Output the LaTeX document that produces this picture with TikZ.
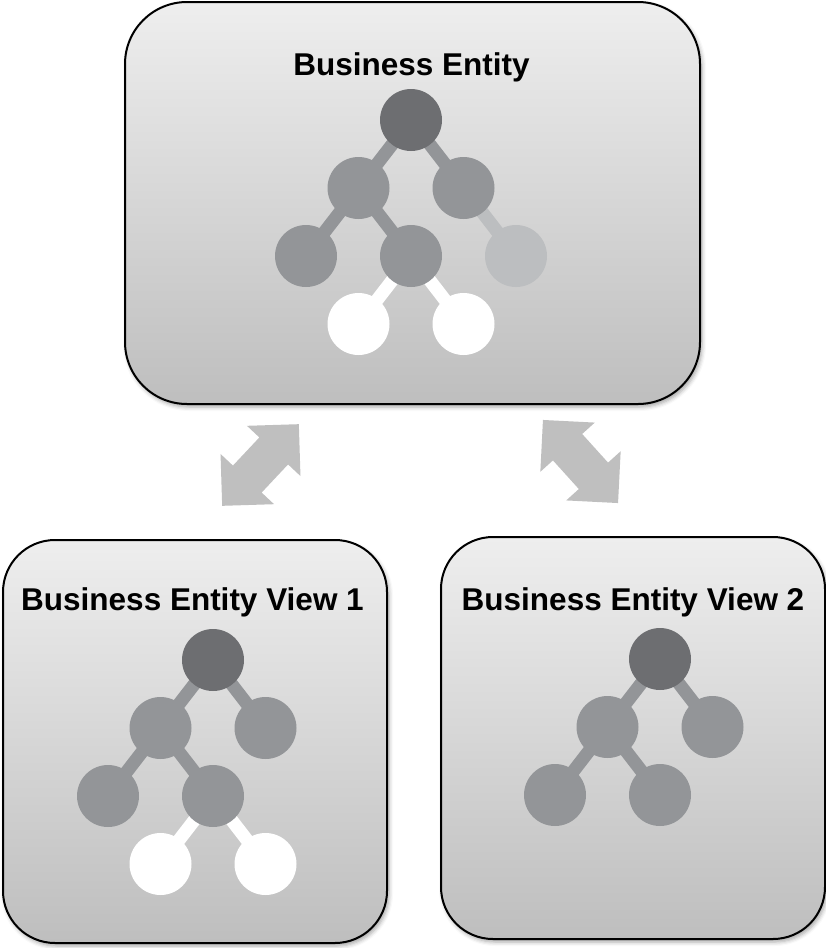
\documentclass[tikz,border=0pt]{standalone}
\usepackage{fontspec}
\setmainfont{Liberation Sans}
\usetikzlibrary{positioning,shapes.arrows,shadows.blur}

\definecolor{rootgray}{HTML}{6D6E71}
\definecolor{midgray}{HTML}{939598}
\definecolor{palegray}{HTML}{BCBEC0}
\definecolor{arrowgray}{HTML}{BFBFBF}
\definecolor{boxtop}{HTML}{EEEEEE}
\definecolor{boxbottom}{HTML}{BEBEBE}

\pgfdeclarelayer{boxes}
\pgfdeclarelayer{links}
\pgfsetlayers{boxes,links,main}

\tikzset{
  entitybox/.style={draw=black, line width=2pt, top color=boxtop, bottom color=boxbottom,
    blur shadow={shadow xshift=2pt, shadow yshift=-3pt, shadow blur radius=4pt, shadow opacity=35}},
  titletext/.style={anchor=base, font=\bfseries\fontsize{31.5}{38}\selectfont},
  treenode/.style={circle, minimum size=62pt, inner sep=0pt, on grid},
  rootnode/.style={treenode, fill=rootgray},
  midnode/.style={treenode, fill=midgray},
  palenode/.style={treenode, fill=palegray},
  blanknode/.style={treenode, fill=white},
  link/.style={line width=13pt, midgray},
  palelink/.style={line width=13pt, palegray},
  blanklink/.style={line width=13pt, white},
  bigarrow/.style={double arrow, fill=arrowgray, minimum height=112pt,
    double arrow head extend=17pt, inner xsep=0pt, inner ysep=19.5pt}
}

\begin{document}
\begin{tikzpicture}[x=1pt, y=-1pt, node distance=68pt and 52.5pt]
  \useasboundingbox (0,0) rectangle (826,948);

  % the three boxes
  \begin{pgfonlayer}{boxes}
    \node[entitybox, rounded corners=62pt, minimum width=575pt, minimum height=402pt] (entity) at (412.5,203) {};
    \node[entitybox, rounded corners=52pt, minimum width=384pt, minimum height=403pt] (viewone) at (195,741.5) {};
    \node[entitybox, rounded corners=52pt, minimum width=384pt, minimum height=402pt] (viewtwo) at (633,738) {};
  \end{pgfonlayer}

  \node[titletext] (entitytitle) at (411.5,75) {Business Entity};
  \node[titletext] (viewonetitle) at (192.5,610) {Business Entity View 1};
  \node[titletext] (viewtwotitle) at (633,610) {Business Entity View 2};

  % full tree
  \node[rootnode] (e0) at (411,120) {};
  \node[midnode, below left=of e0] (e1) {};
  \node[midnode, below right=of e0] (e2) {};
  \node[midnode, below left=of e1] (e3) {};
  \node[midnode, below right=of e1] (e4) {};
  \node[palenode, below right=of e2] (e5) {};
  \node[blanknode, below left=of e4] (e6) {};
  \node[blanknode, below right=of e4] (e7) {};
  \begin{pgfonlayer}{links}
    \draw[link] (e0.center) -- (e1.center) (e0.center) -- (e2.center)
                (e1.center) -- (e3.center) (e1.center) -- (e4.center);
    \draw[palelink] (e2.center) -- (e5.center);
    \draw[blanklink] (e4.center) -- (e6.center) (e4.center) -- (e7.center);
  \end{pgfonlayer}

  % view 1
  \node[rootnode] (a0) at (213,660) {};
  \node[midnode, below left=of a0] (a1) {};
  \node[midnode, below right=of a0] (a2) {};
  \node[midnode, below left=of a1] (a3) {};
  \node[midnode, below right=of a1] (a4) {};
  \node[blanknode, below left=of a4] (a5) {};
  \node[blanknode, below right=of a4] (a6) {};
  \begin{pgfonlayer}{links}
    \draw[link] (a0.center) -- (a1.center) (a0.center) -- (a2.center)
                (a1.center) -- (a3.center) (a1.center) -- (a4.center);
    \draw[blanklink] (a4.center) -- (a5.center) (a4.center) -- (a6.center);
  \end{pgfonlayer}

  % view 2
  \node[rootnode] (b0) at (660,659) {};
  \node[midnode, below left=of b0] (b1) {};
  \node[midnode, below right=of b0] (b2) {};
  \node[midnode, below left=of b1] (b3) {};
  \node[midnode, below right=of b1] (b4) {};
  \begin{pgfonlayer}{links}
    \draw[link] (b0.center) -- (b1.center) (b0.center) -- (b2.center)
                (b1.center) -- (b3.center) (b1.center) -- (b4.center);
  \end{pgfonlayer}

  % arrows between entity and views
  \node[bigarrow, rotate=46.8] (arrowone) at (260.5,465) {};
  \node[bigarrow, rotate=-47.9] (arrowtwo) at (580.5,461.5) {};
\end{tikzpicture}
\end{document}
